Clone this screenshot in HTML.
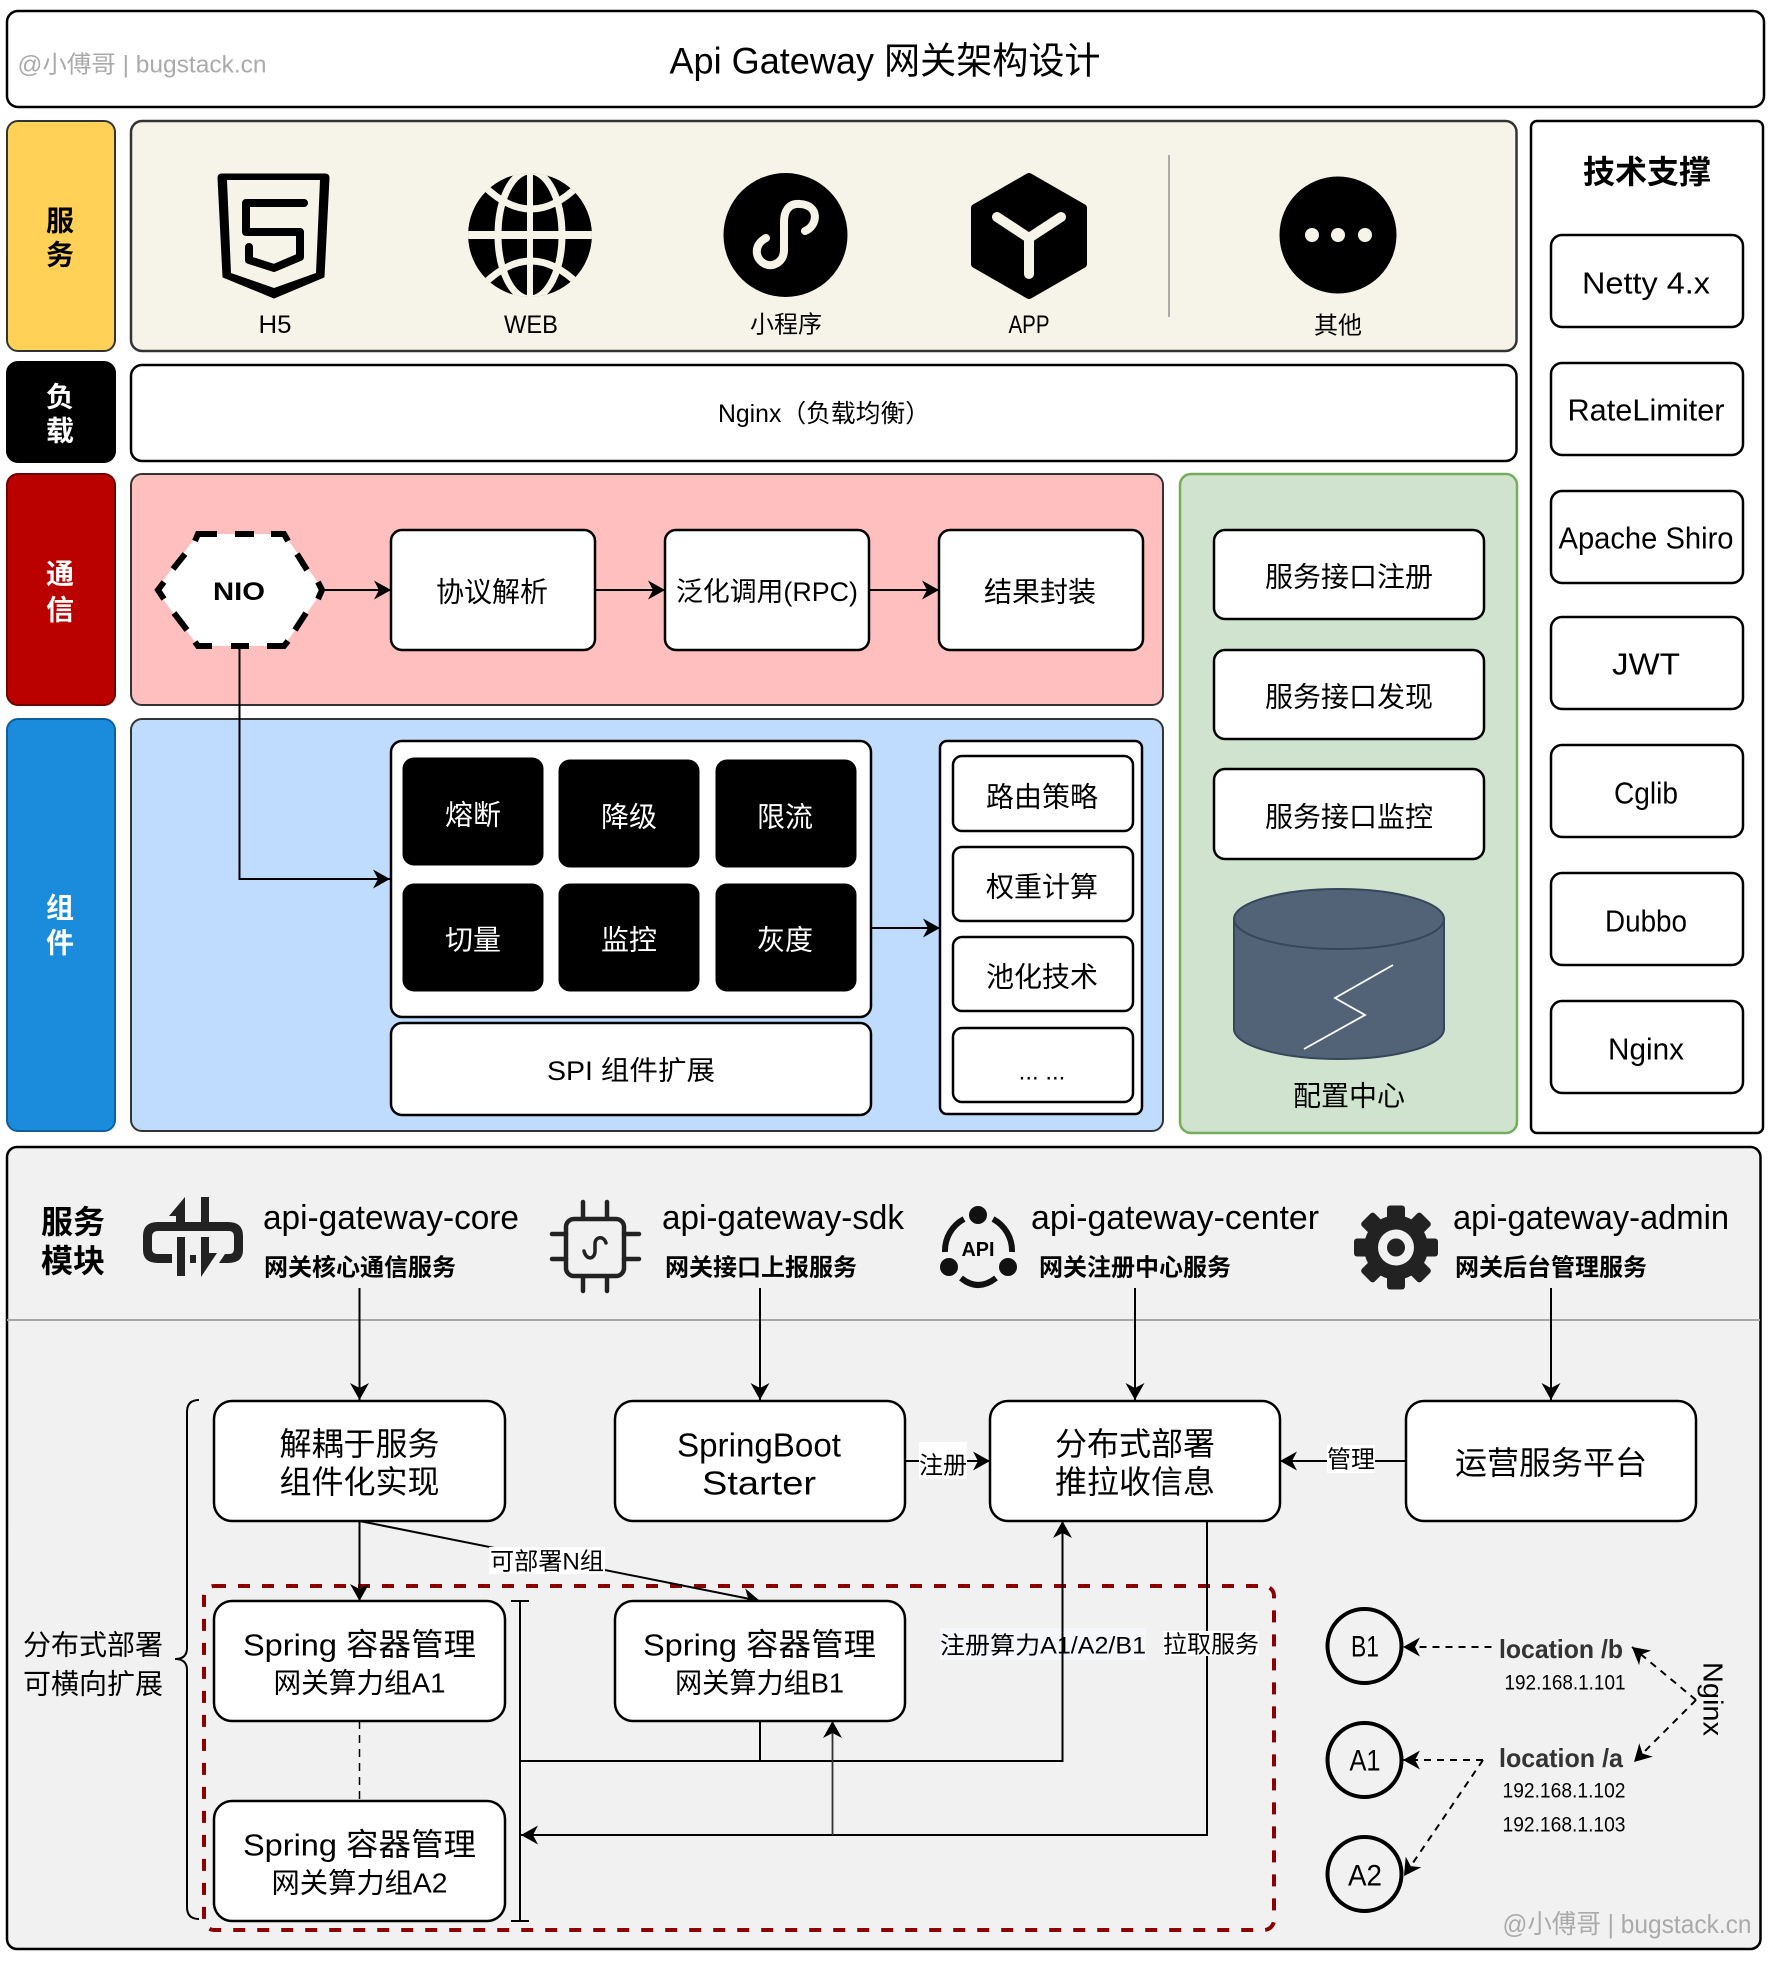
<!DOCTYPE html>
<html><head><meta charset="utf-8"><style>
html,body{margin:0;padding:0;background:#fff}
svg{display:block}
text{font-family:"Liberation Sans","Noto Sans CJK SC",sans-serif;text-anchor:middle;dominant-baseline:central;fill:#000}
.b{font-weight:bold}
.w{fill:#fff}
.g{fill:#aaa}
.box{fill:#fff;stroke:#000;stroke-width:2.5}
.tile{fill:#000;stroke:#000;stroke-width:1}
.ln{fill:none;stroke:#000;stroke-width:2.5}
.th{fill:none;stroke:#000;stroke-width:2}
.da{fill:none;stroke:#000;stroke-width:2;stroke-dasharray:7 6}
</style></head><body>
<svg xmlns="http://www.w3.org/2000/svg" width="1772" height="1972" viewBox="0 0 1772 1972">
<defs>
<marker id="a" markerUnits="userSpaceOnUse" markerWidth="20" markerHeight="22" refX="17" refY="10" orient="auto" overflow="visible"><path d="M0,0.5L17,10L0,19.500L5,10Z" fill="#000"/></marker>
</defs>
<rect width="1772" height="1972" fill="#fff"/>

<!-- title -->
<rect class="box" x="7" y="11" width="1757" height="96" rx="11"/>
<text class="g" x="142" y="65" font-size="24" textLength="249" lengthAdjust="spacingAndGlyphs">@小傅哥 | bugstack.cn</text>
<text x="885" y="61" font-size="37" textLength="431" lengthAdjust="spacingAndGlyphs">Api Gateway 网关架构设计</text>

<!-- left labels -->
<rect x="7" y="121" width="108" height="230" rx="11" fill="#ffd257" stroke="#333" stroke-width="2"/>
<text class="b" x="60" y="221" font-size="28">服</text><text class="b" x="60" y="255" font-size="28">务</text>
<rect x="7" y="362" width="108" height="100" rx="11" fill="#000" stroke="#000" stroke-width="2"/>
<text class="b w" x="60" y="397" font-size="28">负</text><text class="b w" x="60" y="431" font-size="28">载</text>
<rect x="7" y="474" width="108" height="231" rx="11" fill="#bb0000" stroke="#6e0000" stroke-width="2"/>
<text class="b w" x="60" y="574" font-size="28">通</text><text class="b w" x="60" y="610" font-size="28">信</text>
<rect x="7" y="719" width="108" height="412" rx="11" fill="#1b8bdc" stroke="#0f5fa0" stroke-width="2"/>
<text class="b w" x="60" y="908" font-size="28">组</text><text class="b w" x="60" y="943" font-size="28">件</text>

<!-- service panel -->
<rect x="131" y="121" width="1385.500" height="230" rx="11" fill="#f6f4e8" stroke="#333" stroke-width="2.500"/>
<path d="M218,178Q218,174 222,174L325,174Q329,174 329,178L324,277L274,298L223,277Z" fill="#000" stroke="#000" stroke-width="1" stroke-linejoin="round"/>
<path d="M227,180L320,180L316,273L274,288L231,273Z" fill="#f6f4e8"/>
<path d="M304,203L246,203L246,232L300,232L300,257L274,268L249,260L249,247" fill="none" stroke="#000" stroke-width="8" stroke-linejoin="round" stroke-linecap="round"/>
<clipPath id="gc"><circle cx="530" cy="235" r="62"/></clipPath>
<g clip-path="url(#gc)">
<ellipse cx="530" cy="235" rx="62" ry="62" fill="#000"/>
<g fill="none" stroke="#f6f4e8" stroke-width="7">
<ellipse cx="530" cy="235" rx="32" ry="64"/>
<path d="M530,170V300" stroke-width="6"/>
<path d="M462,235H600" stroke-width="8"/>
<path d="M484,186Q531,232 578,186"/>
<path d="M484,284Q531,238 578,284"/>
</g></g>
<circle cx="785.500" cy="235" r="62" fill="#000"/>
<path d="M805,231C818,226 820,205 800,204C788,203 784,212 784,222L784,250C784,262 774,266 768,265C755,262 752,245 766,238" fill="none" stroke="#f6f4e8" stroke-width="8" stroke-linecap="round"/>
<path d="M1029,177L1083,208L1083,264L1029,295L975,264L975,208Z" fill="#000" stroke="#000" stroke-width="8" stroke-linejoin="round"/>
<path d="M997,217L1029,238L1061,217M1029,238L1029,274" fill="none" stroke="#f6f4e8" stroke-width="10" stroke-linecap="round" stroke-linejoin="round"/>
<line x1="1169" y1="155" x2="1169" y2="317" stroke="#aaa" stroke-width="2"/>
<circle cx="1338" cy="235" r="58.500" fill="#000"/>
<circle cx="1312" cy="235" r="7" fill="#f6f4e8"/><circle cx="1338" cy="235" r="7" fill="#f6f4e8"/><circle cx="1365" cy="235" r="7" fill="#f6f4e8"/>
<text x="275" y="325" font-size="25" textLength="33" lengthAdjust="spacingAndGlyphs">H5</text>
<text x="531" y="325" font-size="25" textLength="54" lengthAdjust="spacingAndGlyphs">WEB</text>
<text x="786" y="325" font-size="24">小程序</text>
<text x="1029" y="325" font-size="25" textLength="41" lengthAdjust="spacingAndGlyphs">APP</text>
<text x="1338" y="326" font-size="24">其他</text>

<!-- nginx -->
<rect class="box" x="131" y="365" width="1385.500" height="96" rx="11"/>
<text x="824" y="414" font-size="25" textLength="212" lengthAdjust="spacingAndGlyphs">Nginx（负载均衡）</text>

<!-- pink -->
<rect x="131" y="474" width="1032" height="231" rx="11" fill="#ffbfbf" stroke="#333" stroke-width="2"/>
<!-- blue -->
<rect x="131" y="719" width="1032" height="412" rx="11" fill="#bfdcff" stroke="#333" stroke-width="2"/>
<!-- green -->
<rect x="1180" y="474" width="337" height="659" rx="11" fill="#d0e3ce" stroke="#74ad5c" stroke-width="2.500"/>

<!-- NIO -->
<path d="M198,534L284,534L323,590L284,646L198,646L156,590Z" fill="#fff"/>
<path d="M195,541L198,534H217M235,534H254M271,534H284L288,541M185,554L173,569M297,554L307,570M164,582L158,590L164,599M318,582L322,590L318,599M174,613L187,630M306,613L295,630M195,642L198,646H212M231,646H249M267,646H284L288,641" fill="none" stroke="#000" stroke-width="6"/>
<text class="b" x="239" y="592" font-size="25" textLength="52" lengthAdjust="spacingAndGlyphs">NIO</text>
<path class="th" d="M239.500,646V879H390" marker-end="url(#a)"/>
<path class="th" d="M323,590H391" marker-end="url(#a)"/>
<path class="th" d="M595,590H665" marker-end="url(#a)"/>
<path class="th" d="M869,590H939" marker-end="url(#a)"/>
<rect class="box" x="391" y="530" width="204" height="120" rx="11"/>
<text x="492" y="592" font-size="28">协议解析</text>
<rect class="box" x="665" y="530" width="204" height="120" rx="11"/>
<text x="767" y="592" font-size="27" textLength="182" lengthAdjust="spacingAndGlyphs">泛化调用(RPC)</text>
<rect class="box" x="939" y="530" width="204" height="120" rx="11"/>
<text x="1040" y="592" font-size="28">结果封装</text>

<!-- component -->
<rect class="box" x="391" y="741" width="480" height="276" rx="11"/>
<rect class="box" x="391" y="1023" width="480" height="92" rx="11"/>
<text x="631" y="1071" font-size="27" textLength="168" lengthAdjust="spacingAndGlyphs">SPI 组件扩展</text>
<rect class="tile" x="403" y="758" width="140" height="107" rx="11"/>
<rect class="tile" x="559" y="760" width="140" height="107" rx="11"/>
<rect class="tile" x="716" y="760" width="140" height="107" rx="11"/>
<rect class="tile" x="403" y="884" width="140" height="107" rx="11"/>
<rect class="tile" x="559" y="884" width="140" height="107" rx="11"/>
<rect class="tile" x="716" y="884" width="140" height="107" rx="11"/>
<text class="w" x="473" y="815" font-size="28">熔断</text>
<text class="w" x="629" y="817" font-size="28">降级</text>
<text class="w" x="785" y="817" font-size="28">限流</text>
<text class="w" x="473" y="940" font-size="28">切量</text>
<text class="w" x="629" y="940" font-size="28">监控</text>
<text class="w" x="785" y="940" font-size="28">灰度</text>
<path class="th" d="M871,928H940" marker-end="url(#a)"/>
<rect class="box" x="940" y="741" width="202" height="373" rx="7"/>
<rect class="box" x="953" y="756" width="180" height="75" rx="9"/>
<rect class="box" x="953" y="847" width="180" height="74" rx="9"/>
<rect class="box" x="953" y="937" width="180" height="74" rx="9"/>
<rect class="box" x="953" y="1028" width="180" height="74" rx="9"/>
<text x="1042" y="797" font-size="28">路由策略</text>
<text x="1042" y="887" font-size="28">权重计算</text>
<text x="1042" y="977" font-size="28">池化技术</text>
<text x="1042" y="1072" font-size="24">... ...</text>

<!-- green contents -->
<rect class="box" x="1214" y="530" width="270" height="89" rx="11"/>
<rect class="box" x="1214" y="650" width="270" height="89" rx="11"/>
<rect class="box" x="1214" y="769" width="270" height="90" rx="11"/>
<text x="1349" y="577" font-size="28">服务接口注册</text>
<text x="1349" y="697" font-size="28">服务接口发现</text>
<text x="1349" y="817" font-size="28">服务接口监控</text>
<path d="M1234,919A105,30 0 0 1 1444,919V1029A105,30 0 0 1 1234,1029Z" fill="#526377" stroke="#37465a" stroke-width="2"/>
<path d="M1234,919A105,30 0 0 0 1444,919" fill="none" stroke="#37465a" stroke-width="2"/>
<path d="M1393,965L1335,998L1365,1015L1304,1049" fill="none" stroke="#fff" stroke-width="1.800"/>
<text x="1349" y="1096" font-size="28">配置中心</text>

<!-- right panel -->
<rect class="box" x="1531" y="121" width="232" height="1012" rx="6"/>
<text class="b" x="1647" y="172" font-size="32">技术支撑</text>
<rect class="box" x="1551" y="235" width="192" height="92" rx="11"/>
<rect class="box" x="1551" y="363" width="192" height="92" rx="11"/>
<rect class="box" x="1551" y="491" width="192" height="92" rx="11"/>
<rect class="box" x="1551" y="617" width="192" height="92" rx="11"/>
<rect class="box" x="1551" y="745" width="192" height="92" rx="11"/>
<rect class="box" x="1551" y="873" width="192" height="92" rx="11"/>
<rect class="box" x="1551" y="1001" width="192" height="92" rx="11"/>
<text x="1646" y="283" font-size="31" textLength="128" lengthAdjust="spacingAndGlyphs">Netty 4.x</text>
<text x="1646" y="410" font-size="31" textLength="157" lengthAdjust="spacingAndGlyphs">RateLimiter</text>
<text x="1646" y="538" font-size="31" textLength="175" lengthAdjust="spacingAndGlyphs">Apache Shiro</text>
<text x="1646" y="664" font-size="31" textLength="68" lengthAdjust="spacingAndGlyphs">JWT</text>
<text x="1646" y="793" font-size="31" textLength="64" lengthAdjust="spacingAndGlyphs">Cglib</text>
<text x="1646" y="921" font-size="31" textLength="82" lengthAdjust="spacingAndGlyphs">Dubbo</text>
<text x="1646" y="1049" font-size="31" textLength="76" lengthAdjust="spacingAndGlyphs">Nginx</text>

<!-- bottom panel -->
<rect x="7" y="1147" width="1753.500" height="802" rx="10" fill="#f1f1f1" stroke="#000" stroke-width="2.500"/>
<line x1="7" y1="1320" x2="1760" y2="1320" stroke="#a6a6a6" stroke-width="2"/>
<text class="b" x="73" y="1222" font-size="32">服务</text>
<text class="b" x="73" y="1261" font-size="32">模块</text>

<!-- core icon -->
<g fill="#222">
<path d="M185,1197L169,1216L176,1216L176,1222L201,1222L201,1197L209,1197L209,1222L228,1222Q243,1222 243,1236L243,1250Q243,1263 228,1263L219,1263L225,1254L229,1254Q234,1254 234,1249L234,1237Q234,1231 229,1231L158,1231Q152,1231 152,1237L152,1249Q152,1254 158,1254L172,1254L172,1263L158,1263Q143,1263 143,1250L143,1236Q143,1222 158,1222L176,1222L185,1222Z"/>
<rect x="177" y="1237" width="8" height="39"/>
<rect x="190" y="1255" width="6" height="8"/>
<path d="M201,1237H209V1253H217L201,1277Z"/>
</g>
<text x="391" y="1218" font-size="34" textLength="256" lengthAdjust="spacingAndGlyphs">api-gateway-core</text>
<text class="b" x="360" y="1268" font-size="24">网关核心通信服务</text>

<!-- chip -->
<g fill="none" stroke="#222" stroke-width="4.500" stroke-linecap="round">
<rect x="566" y="1219" width="58" height="57" rx="8"/>
<path d="M583,1202V1217M607,1202V1217M583,1278V1291M607,1278V1291M552,1234H566M552,1259H566M624,1234H639M624,1259H639"/>
<path d="M606,1243C604,1236 596,1236 595,1243L595,1252C594,1260 586,1260 584,1251" stroke-width="3.500"/>
</g>
<text x="783" y="1218" font-size="34" textLength="242" lengthAdjust="spacingAndGlyphs">api-gateway-sdk</text>
<text class="b" x="761" y="1268" font-size="24">网关接口上报服务</text>

<!-- api icon -->
<g fill="#111">
<circle cx="978" cy="1215" r="9"/><circle cx="949" cy="1267" r="9"/><circle cx="1008" cy="1267" r="9"/>
<path d="M945,1252A36,36 0 0 1 964,1219M1012,1252A36,36 0 0 0 993,1219M961,1278Q978,1292 996,1278" fill="none" stroke="#111" stroke-width="6"/>
</g>
<text class="b" x="978" y="1250" font-size="20" textLength="33" lengthAdjust="spacingAndGlyphs">API</text>
<text x="1175" y="1218" font-size="34" textLength="288" lengthAdjust="spacingAndGlyphs">api-gateway-center</text>
<text class="b" x="1135" y="1268" font-size="24">网关注册中心服务</text>

<!-- gear -->
<g fill="#222" transform="translate(1396,1247.500)">
<circle r="32"/>
<rect x="-9" y="-42" width="18" height="84" rx="3"/>
<rect x="-9" y="-42" width="18" height="84" rx="3" transform="rotate(45)"/>
<rect x="-9" y="-42" width="18" height="84" rx="3" transform="rotate(90)"/>
<rect x="-9" y="-42" width="18" height="84" rx="3" transform="rotate(135)"/>
<circle r="18" fill="#f1f1f1"/><circle r="9"/>
</g>
<text x="1591" y="1218" font-size="34" textLength="276" lengthAdjust="spacingAndGlyphs">api-gateway-admin</text>
<text class="b" x="1551" y="1268" font-size="24">网关后台管理服务</text>

<!-- module arrows -->
<path class="th" d="M359.500,1288V1400" marker-end="url(#a)"/>
<path class="th" d="M760,1288V1400" marker-end="url(#a)"/>
<path class="th" d="M1135,1288V1400" marker-end="url(#a)"/>
<path class="th" d="M1551,1288V1400" marker-end="url(#a)"/>

<!-- red dashed -->
<rect x="204" y="1586" width="1070" height="344" rx="10" fill="none" stroke="#8b0000" stroke-width="4" stroke-dasharray="12 12"/>

<!-- bracket -->
<path d="M199,1400Q187,1400 187,1412L187,1648Q187,1659 175,1659Q187,1659 187,1670L187,1907Q187,1919 199,1919" fill="none" stroke="#000" stroke-width="2"/>
<text x="93" y="1645" font-size="28">分布式部署</text>
<text x="93" y="1684" font-size="28">可横向扩展</text>

<!-- connectors -->
<path class="th" d="M359.500,1521V1601" marker-end="url(#a)"/>
<path class="th" d="M359.500,1521L760,1601" marker-end="url(#a)"/>
<line x1="359.500" y1="1721" x2="359.500" y2="1801" stroke="#000" stroke-width="1.500" stroke-dasharray="8 6"/>
<path class="th" d="M520,1601V1921M511,1601H529M511,1921H529"/>
<path class="th" d="M520,1761H1062.500V1521" marker-end="url(#a)"/>
<path class="th" d="M760,1721V1761"/>
<path class="th" d="M1207,1521V1835H521" marker-end="url(#a)"/>
<path d="M832.500,1835V1721" fill="none" stroke="#333" stroke-width="1.800" marker-end="url(#a)"/>

<!-- main boxes -->
<rect class="box" x="214" y="1401" width="291" height="120" rx="18"/>
<text x="359.500" y="1444" font-size="32">解耦于服务</text>
<text x="359.500" y="1482" font-size="32">组件化实现</text>
<rect class="box" x="615" y="1401" width="290" height="120" rx="18"/>
<text x="759" y="1445" font-size="33" textLength="164" lengthAdjust="spacingAndGlyphs">SpringBoot</text>
<text x="759" y="1483" font-size="33" textLength="114" lengthAdjust="spacingAndGlyphs">Starter</text>
<rect class="box" x="990" y="1401" width="290" height="120" rx="18"/>
<text x="1135" y="1444" font-size="32">分布式部署</text>
<text x="1135" y="1482" font-size="32">推拉收信息</text>
<rect class="box" x="1406" y="1401" width="290" height="120" rx="18"/>
<text x="1551" y="1463" font-size="32">运营服务平台</text>

<path class="th" d="M905,1461H990" marker-end="url(#a)"/>
<path class="th" d="M1406,1461H1280" marker-end="url(#a)"/>
<rect x="919" y="1442" width="48" height="37" fill="#fff"/>
<text x="943" y="1466" font-size="24">注册</text>
<rect x="1327" y="1445" width="48" height="28" fill="#fff"/>
<text x="1351" y="1460" font-size="24">管理</text>
<rect x="489" y="1547" width="116" height="27" fill="#fff"/>
<text x="547" y="1562" font-size="24" textLength="114" lengthAdjust="spacingAndGlyphs">可部署N组</text>

<!-- spring boxes -->
<rect class="box" x="214" y="1601" width="291" height="120" rx="18"/>
<text x="359.500" y="1645" font-size="31" textLength="233" lengthAdjust="spacingAndGlyphs">Spring 容器管理</text>
<text x="359.500" y="1683" font-size="28" textLength="172" lengthAdjust="spacingAndGlyphs">网关算力组A1</text>
<rect class="box" x="615" y="1601" width="290" height="120" rx="18"/>
<text x="759.500" y="1645" font-size="31" textLength="233" lengthAdjust="spacingAndGlyphs">Spring 容器管理</text>
<text x="759.500" y="1683" font-size="28" textLength="169" lengthAdjust="spacingAndGlyphs">网关算力组B1</text>
<rect class="box" x="214" y="1801" width="291" height="120" rx="18"/>
<text x="359.500" y="1845" font-size="31" textLength="233" lengthAdjust="spacingAndGlyphs">Spring 容器管理</text>
<text x="359.500" y="1883" font-size="28" textLength="176" lengthAdjust="spacingAndGlyphs">网关算力组A2</text>

<!-- labels on lines -->
<rect x="940" y="1628" width="206" height="32" fill="#f5f7fa"/>
<line x1="1062.500" y1="1628" x2="1062.500" y2="1660" stroke="#000" stroke-width="2"/>
<text x="1043" y="1646" font-size="24" textLength="206" lengthAdjust="spacingAndGlyphs">注册算力A1/A2/B1</text>
<rect x="1163" y="1631" width="96" height="25" fill="#fff"/>
<text x="1211" y="1645" font-size="24">拉取服务</text>

<!-- circles -->
<circle cx="1364.500" cy="1646" r="37" fill="none" stroke="#000" stroke-width="4"/>
<circle cx="1364.500" cy="1760" r="37" fill="none" stroke="#000" stroke-width="4"/>
<circle cx="1364.500" cy="1874" r="37" fill="none" stroke="#000" stroke-width="4"/>
<text x="1365" y="1647" font-size="30" textLength="28" lengthAdjust="spacingAndGlyphs">B1</text>
<text x="1365" y="1761" font-size="30" textLength="31" lengthAdjust="spacingAndGlyphs">A1</text>
<text x="1365" y="1876" font-size="30" textLength="34" lengthAdjust="spacingAndGlyphs">A2</text>
<path class="da" d="M1491.500,1647H1403" marker-end="url(#a)"/>
<path class="da" d="M1483,1760H1403" marker-end="url(#a)"/>
<path class="da" d="M1483,1760L1404,1876" marker-end="url(#a)"/>
<path class="da" d="M1696,1700L1632,1647" marker-end="url(#a)"/>
<path class="da" d="M1696,1700L1634,1762" marker-end="url(#a)"/>
<text class="b" x="1561" y="1649" font-size="26" textLength="124" lengthAdjust="spacingAndGlyphs" style="fill:#333">location /b</text>
<text x="1565" y="1683" font-size="21" textLength="121" lengthAdjust="spacingAndGlyphs">192.168.1.101</text>
<text class="b" x="1561" y="1758" font-size="26" textLength="124" lengthAdjust="spacingAndGlyphs" style="fill:#333">location /a</text>
<text x="1564" y="1791" font-size="21" textLength="123" lengthAdjust="spacingAndGlyphs">192.168.1.102</text>
<text x="1564" y="1825" font-size="21" textLength="123" lengthAdjust="spacingAndGlyphs">192.168.1.103</text>
<text x="0" y="0" font-size="28" textLength="74" lengthAdjust="spacingAndGlyphs" transform="translate(1713,1699) rotate(90)">Nginx</text>
<text class="g" x="1627" y="1924" font-size="26" textLength="249" lengthAdjust="spacingAndGlyphs">@小傅哥 | bugstack.cn</text>
</svg>
</body></html>
